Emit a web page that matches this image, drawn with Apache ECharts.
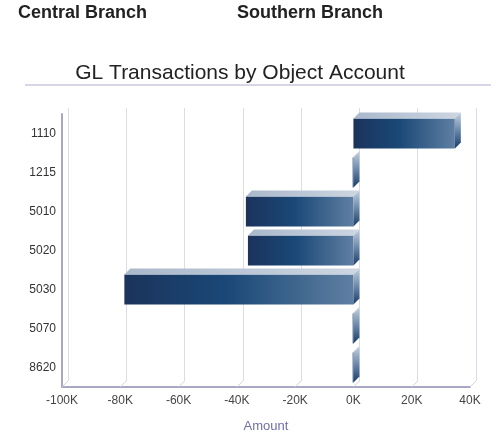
<!DOCTYPE html>
<html>
<head>
<meta charset="utf-8">
<script src="https://cdn.jsdelivr.net/npm/echarts@6/dist/echarts.min.js"></script>
<style>
  html, body { margin: 0; padding: 0; background: #ffffff; }
  #chart { width: 491px; height: 433px; }
</style>
</head>
<body>
<div id="chart"></div>
<script>
// data
var accounts = ['1110', '1215', '5010', '5020', '5030', '5070', '8620'];
var amounts = [34800, -250, -36900, -36200, -78600, -250, -250];
var axisTicks = [-100000, -80000, -60000, -40000, -20000, 0, 20000, 40000];

var DEPTH = 6;

var myChart = echarts.init(document.getElementById('chart'));

var barData = accounts.map(function (a, i) {
    return [amounts[i], a];
});
var floorData = axisTicks.map(function (t) {
    return [t, accounts[accounts.length - 1]];
});

function drawBar(params, api) {
    var cat = api.value(1);
    var val = api.value(0);
    var p0 = api.coord([0, cat]);
    var p1 = api.coord([val, cat]);
    var band = api.size([0, 1])[1];
    var h = band * 0.77;
    var x0 = Math.min(p0[0], p1[0]);
    var x1 = Math.max(p0[0], p1[0]);
    var y0 = p0[1] - h / 2;
    var d = DEPTH;
    return {
        type: 'group',
        children: [{
            type: 'rect',
            shape: {x: x0, y: y0, width: Math.max(x1 - x0, 1), height: h},
            style: {
                fill: new echarts.graphic.LinearGradient(0, 0, 1, 0, [
                    {offset: 0, color: '#1b335c'},
                    {offset: 0.45, color: '#1a4877'},
                    {offset: 1, color: '#5f7fa2'}
                ])
            }
        }, {
            type: 'polygon',
            shape: {points: [[x0, y0], [x0 + d, y0 - d], [x1 + d, y0 - d], [x1, y0]]},
            style: {
                fill: new echarts.graphic.LinearGradient(0, 0, 1, 0, [
                    {offset: 0, color: '#a9b8cb'},
                    {offset: 1, color: '#cdd6e2'}
                ])
            }
        }, {
            type: 'polygon',
            shape: {points: [[x1, y0], [x1 + d, y0 - d], [x1 + d, y0 + h - d], [x1, y0 + h]]},
            style: {
                fill: new echarts.graphic.LinearGradient(0, 0, 0, 1, [
                    {offset: 0, color: '#c3d0de'},
                    {offset: 0.5, color: '#6a88aa'},
                    {offset: 1, color: '#173a68'}
                ])
            }
        }]
    };
}

function drawFloor(params, api) {
    var p = api.coord([api.value(0), api.value(1)]);
    var band = api.size([0, 1])[1];
    var y = p[1] + band / 2;
    return {
        type: 'line',
        shape: {x1: p[0], y1: y, x2: p[0] + DEPTH, y2: y - DEPTH},
        style: {stroke: '#d0d0e0', lineWidth: 1}
    };
}

option = {
    animation: false,
    textStyle: {fontFamily: 'Liberation Sans, Arial, sans-serif'},
    title: [{
        text: 'Central Branch',
        left: 18,
        top: 4,
        padding: 0,
        textStyle: {fontSize: 18, fontWeight: 'bold', color: '#222'}
    }, {
        text: 'Southern Branch',
        left: 237,
        top: 4,
        padding: 0,
        textStyle: {fontSize: 18, fontWeight: 'bold', color: '#222'}
    }, {
        text: 'GL Transactions by Object Account',
        left: 240,
        textAlign: 'center',
        top: 63,
        padding: 0,
        textStyle: {fontSize: 21, fontWeight: 'normal', color: '#222'}
    }],
    graphic: [{
        type: 'line',
        shape: {x1: 25, y1: 85, x2: 491, y2: 85},
        style: {stroke: '#c8c8e0', lineWidth: 1.5}
    }],
    grid: [
        // back wall grid, shifted by the depth
        {left: 62 + DEPTH, right: 21 - DEPTH, top: 114 - DEPTH, bottom: 46 + DEPTH, outerBoundsMode: 'none'},
        // front grid
        {left: 62, right: 21, top: 114, bottom: 46, outerBoundsMode: 'none'}
    ],
    xAxis: [{
        gridIndex: 0,
        type: 'value',
        min: -100000,
        max: 40000,
        interval: 20000,
        axisLine: {show: false},
        axisTick: {show: false},
        axisLabel: {show: false},
        splitLine: {show: true, lineStyle: {color: '#dcdce8', width: 1}}
    }, {
        gridIndex: 1,
        type: 'value',
        min: -100000,
        max: 40000,
        interval: 20000,
        name: 'Amount',
        nameLocation: 'middle',
        nameGap: 33,
        nameTextStyle: {color: '#6f6fa8', fontSize: 13},
        axisLine: {show: true, lineStyle: {color: '#a8a8c4', width: 2}},
        axisTick: {show: false},
        axisLabel: {
            color: '#444',
            fontSize: 12,
            margin: 8,
            formatter: function (v) { return (v / 1000) + 'K'; }
        },
        splitLine: {show: false}
    }],
    yAxis: [{
        gridIndex: 0,
        type: 'category',
        data: accounts,
        inverse: true,
        show: false
    }, {
        gridIndex: 1,
        type: 'category',
        data: accounts,
        inverse: true,
        axisLine: {show: true, onZero: false, lineStyle: {color: '#a8a8c4', width: 2}},
        axisTick: {show: false},
        axisLabel: {color: '#333', fontSize: 12, margin: 6}
    }],
    series: [{
        type: 'custom',
        xAxisIndex: 1,
        yAxisIndex: 1,
        renderItem: drawFloor,
        encode: {x: 0, y: 1},
        data: floorData,
        silent: true
    }, {
        type: 'custom',
        xAxisIndex: 1,
        yAxisIndex: 1,
        renderItem: drawBar,
        encode: {x: 0, y: 1},
        data: barData
    }]
};

myChart.setOption(option);
</script>
</body>
</html>
